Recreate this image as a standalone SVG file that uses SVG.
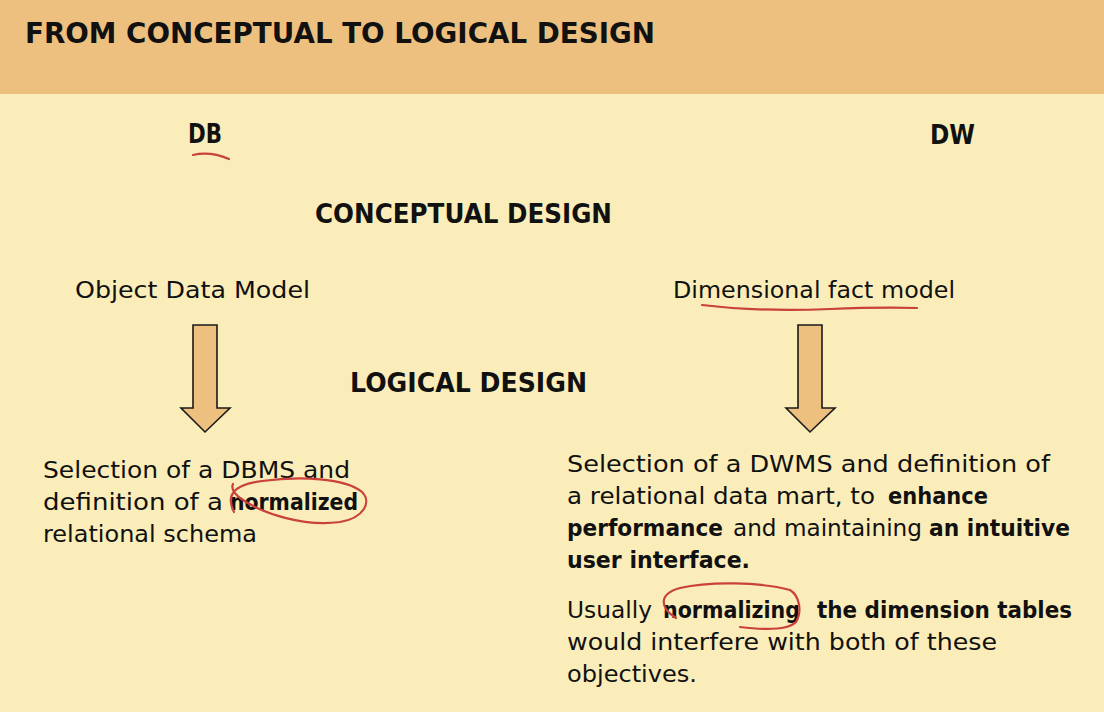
<svg xmlns="http://www.w3.org/2000/svg" width="1104" height="712" viewBox="0 0 1104 712">
  <style>
    text { font-family: "DejaVu Sans", "Liberation Sans", sans-serif; fill: #111; }
    .title { font-size: 29px; font-weight: bold; }
    .head { font-size: 26px; font-weight: bold; }
    .body { font-size: 23px; }
    .b { font-weight: bold; }
    .arrow { fill: #EDC07F; stroke: #1a1a1a; stroke-width: 1.6; stroke-linejoin: miter; }
    .ink { fill: none; stroke: #C9413A; stroke-width: 2.2; stroke-linecap: round; stroke-linejoin: round; }
  </style>

  <!-- page background and header band -->
  <rect x="0" y="0" width="1104" height="712" fill="#FAEDB9"/>
  <rect x="0" y="0" width="1104" height="94" fill="#EDC07F"/>

  <g id="title">
    <text class="title" x="25" y="43" textLength="630" lengthAdjust="spacingAndGlyphs">FROM CONCEPTUAL TO LOGICAL DESIGN</text>
  </g>

  <g id="db-label">
    <text class="head" x="188" y="143" textLength="34" lengthAdjust="spacingAndGlyphs">DB</text>
  </g>
  <g id="dw-label">
    <text class="head" x="930" y="144" textLength="45" lengthAdjust="spacingAndGlyphs">DW</text>
  </g>

  <g id="conceptual-design">
    <text class="head" x="315" y="223" textLength="297" lengthAdjust="spacingAndGlyphs">CONCEPTUAL DESIGN</text>
  </g>
  <g id="logical-design">
    <text class="head" x="350" y="392" textLength="237" lengthAdjust="spacingAndGlyphs">LOGICAL DESIGN</text>
  </g>

  <g id="object-data-model">
    <text class="body" x="75" y="298" textLength="235" lengthAdjust="spacingAndGlyphs">Object Data Model</text>
  </g>
  <g id="dimensional-fact-model">
    <text class="body" x="673" y="298" textLength="282" lengthAdjust="spacingAndGlyphs">Dimensional fact model</text>
  </g>

  <!-- block arrows from the conceptual to the logical models -->
  <g id="connectors">
    <polygon class="arrow" points="193,325 217,325 217,408 230,408 205,432 181,408 193,408"/>
    <polygon class="arrow" points="798,325 822,325 822,408 835,408 810,432 786,408 798,408"/>
  </g>

  <g id="db-logical">
    <text class="body" x="43" y="478" textLength="307" lengthAdjust="spacingAndGlyphs">Selection of a DBMS and</text>
    <text class="body" x="43" y="510" textLength="180" lengthAdjust="spacingAndGlyphs">definition of a</text>
    <text class="body b" x="230" y="510" textLength="128" lengthAdjust="spacingAndGlyphs">normalized</text>
    <text class="body" x="43" y="542" textLength="214" lengthAdjust="spacingAndGlyphs">relational schema</text>
  </g>

  <g id="dw-logical">
    <text class="body" x="567" y="472" textLength="483" lengthAdjust="spacingAndGlyphs">Selection of a DWMS and definition of</text>
    <text class="body" x="567" y="504" textLength="308" lengthAdjust="spacingAndGlyphs">a relational data mart, to</text>
    <text class="body b" x="888" y="504" textLength="100" lengthAdjust="spacingAndGlyphs">enhance</text>
    <text class="body b" x="567" y="536" textLength="156" lengthAdjust="spacingAndGlyphs">performance</text>
    <text class="body" x="733" y="536" textLength="189" lengthAdjust="spacingAndGlyphs">and maintaining</text>
    <text class="body b" x="929" y="536" textLength="141" lengthAdjust="spacingAndGlyphs">an intuitive</text>
    <text class="body b" x="567" y="568" textLength="183" lengthAdjust="spacingAndGlyphs">user interface.</text>

    <text class="body" x="567" y="618" textLength="85" lengthAdjust="spacingAndGlyphs">Usually</text>
    <text class="body b" x="663" y="618" textLength="137" lengthAdjust="spacingAndGlyphs">normalizing</text>
    <text class="body b" x="817" y="618" textLength="255" lengthAdjust="spacingAndGlyphs">the dimension tables</text>
    <text class="body" x="567" y="650" textLength="430" lengthAdjust="spacingAndGlyphs">would interfere with both of these</text>
    <text class="body" x="567" y="682" textLength="130" lengthAdjust="spacingAndGlyphs">objectives.</text>
  </g>

  <!-- hand-drawn red annotations -->
  <g id="annotations">
    <path class="ink" d="M193,155 Q210,151 229,159"/>
    <path class="ink" d="M702,305 Q760,312 830,309 Q880,307 917,308"/>
    <path class="ink" d="M234,512 C226,496 232,485 262,481 C300,476 345,478 362,492 C372,502 364,518 340,522 C305,527 262,514 240,498 C234,493 231,488 233,484"/>
    <path class="ink" d="M676,618 C660,608 658,594 680,588 C710,581 760,582 790,590 C800,596 802,612 796,622 C788,630 765,630 740,627"/>
  </g>
</svg>
